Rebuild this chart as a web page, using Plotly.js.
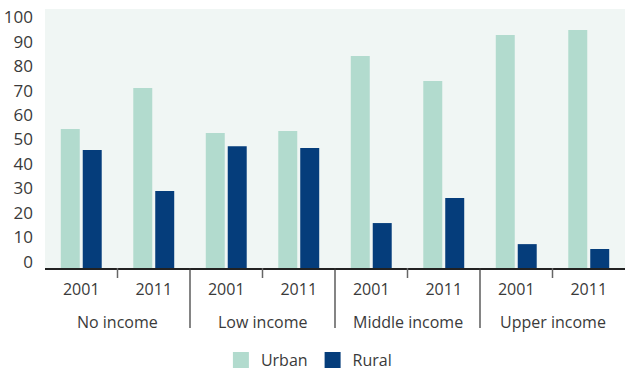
<!DOCTYPE html>
<html>
<head>
<meta charset="utf-8">
<script src="https://cdn.plot.ly/plotly-3.0.1.min.js"></script>
<style>html,body{margin:0;padding:0;background:#fff;}#chart{width:625px;height:371px;}</style>
</head>
<body>
<div id="chart"></div>
<script>
const groups = ["No income", "No income", "Low income", "Low income", "Middle income", "Middle income", "Upper income", "Upper income"];
const years = ["2001", "2011", "2001", "2011", "2001", "2011", "2001", "2011"];
const urban = [54.3, 71.0, 52.7, 53.5, 84.1, 73.9, 92.7, 94.7];
const rural = [45.7, 29.0, 47.3, 46.5, 15.9, 26.1, 7.3, 5.3];
const yTicks = [0, 10, 20, 30, 40, 50, 60, 70, 80, 90, 100];

const floorVal = -2.45;   // axis line sits slightly below zero, bars reach it
const toBar = vals => vals.map(v => v - floorVal);
const cats = groups.map((g, i) => g + "|" + years[i]);
const groupNames = [...new Set(groups)];

const font = "Open Sans, sans-serif";
const txt = "#3a3a3a";
const colU = "#b2dbce", colR = "#053d7b";
const data = [
  {type: "bar", name: "Urban", x: cats, y: toBar(urban), base: floorVal, showlegend: false,
   marker: {color: colU}, customdata: urban, hovertemplate: "%{customdata}<extra>Urban</extra>"},
  {type: "bar", name: "Rural", x: cats, y: toBar(rural), base: floorVal, showlegend: false,
   marker: {color: colR}, customdata: rural, hovertemplate: "%{customdata}<extra>Rural</extra>"},
  {type: "scatter", mode: "markers", name: "Urban", x: [null], y: [null],
   marker: {symbol: "square", size: 16, color: colU}},
  {type: "scatter", mode: "markers", name: "Rural", x: [null], y: [null],
   marker: {symbol: "square", size: 16, color: colR}}
];

const annotations = groupNames.map(g => {
  const idx = groups.map((x, i) => x === g ? i : -1).filter(i => i >= 0);
  return {xref: "x", yref: "paper", x: (idx[0] + idx[idx.length - 1]) / 2, y: -0.2085,
          text: g, showarrow: false, yanchor: "middle", xanchor: "center",
          font: {size: 16, color: txt}};
});
const shapes = [];
for (let i = 0; i < cats.length - 1; i++) {
  const between = i + 0.5;
  const isDivider = groups[i] !== groups[i + 1];
  shapes.push({type: "line", xref: "x", yref: "paper", x0: between, x1: between,
               y0: 0, y1: isDivider ? -60 / 259 : -10 / 259,
               line: {color: isDivider ? "#333" : "#666", width: isDivider ? 1.2 : 1.5}});
}

const layout = {
  width: 625, height: 371,
  margin: {l: 45, r: 0, t: 9, b: 103, autoexpand: false},
  paper_bgcolor: "#ffffff",
  plot_bgcolor: "#f0f6f4",
  font: {family: font, size: 16, color: txt},
  barmode: "group",
  bargap: 0.394,
  bargroupgap: 0.136,
  showlegend: true,
  legend: {orientation: "h", x: 0.455, xanchor: "center", y: -0.29, yanchor: "top",
           font: {size: 16, color: txt}, itemwidth: 30, traceorder: "normal"},
  xaxis: {type: "category", categoryorder: "array", categoryarray: cats, range: [-0.5, cats.length - 0.5],
          tickvals: cats, ticktext: years, ticks: "", ticklabelstandoff: 6, tickangle: 0,
          showline: true, linecolor: "#222", linewidth: 1.5,
          tickfont: {size: 16, color: txt}, showgrid: false, zeroline: false},
  yaxis: {range: [floorVal, 103.3], tickvals: yTicks, ticktext: yTicks.map(String),
          showgrid: false, zeroline: false, showline: false, ticks: "",
          tickfont: {size: 17, color: txt}, ticklabelstandoff: 11},
  annotations: annotations,
  shapes: shapes
};
Plotly.newPlot("chart", data, layout, {displayModeBar: false, staticPlot: true});
</script>
</body>
</html>
